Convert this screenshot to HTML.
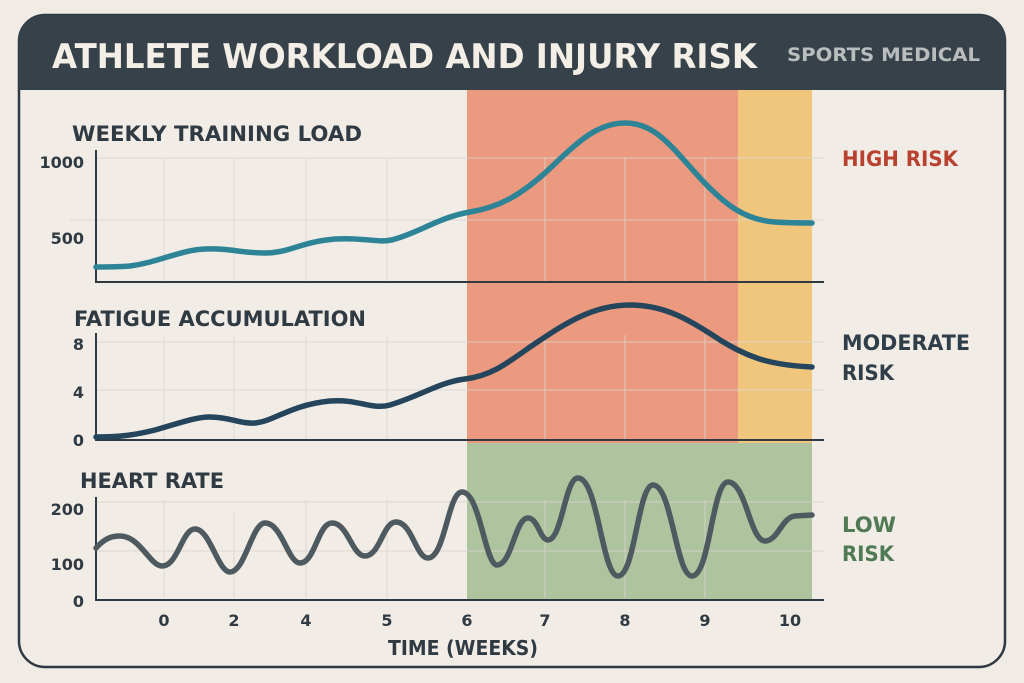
<!DOCTYPE html>
<html><head><meta charset="utf-8"><style>
html,body{margin:0;padding:0;background:#f0ebe4;}
svg{display:block;font-family:"DejaVu Sans","Liberation Sans",sans-serif;font-weight:bold;}
</style></head><body>
<svg width="1024" height="683" viewBox="0 0 1024 683" xmlns="http://www.w3.org/2000/svg">
<rect x="0" y="0" width="1024" height="683" fill="#f0ebe4"/>
<rect x="19" y="15" width="986" height="652" rx="26" fill="#f1ece6" stroke="#2f3a42" stroke-width="2.5"/>
<path d="M19,90 V41 A26,26 0 0 1 45,15 H979 A26,26 0 0 1 1005,41 V90 Z" fill="#36414a"/>
<text x="52" y="68" font-size="34" fill="#f3eee6" textLength="705" lengthAdjust="spacingAndGlyphs">ATHLETE WORKLOAD AND INJURY RISK</text>
<text x="787" y="61" font-size="19" fill="#b9bdbe" textLength="193" lengthAdjust="spacingAndGlyphs">SPORTS MEDICAL</text>
<rect x="467" y="90" width="271" height="353" fill="#eb9a80"/>
<rect x="738" y="90" width="74" height="353" fill="#f0c67c"/>
<rect x="467" y="443" width="345" height="157" fill="#adc49f"/>
<g stroke="#d9d4cd" stroke-width="1.2" opacity="0.7">
<path d="M164,158V282 M234,158V282 M306,158V282 M387,158V282 M545,158V282 M625,158V282 M705,158V282"/>
<path d="M96,158H824 M70,220H824"/>
<path d="M164,335V440 M234,335V440 M306,335V440 M387,335V440 M545,335V440 M625,335V440 M705,335V440"/>
<path d="M96,342H824 M96,390H824"/>
<path d="M164,500V598 M234,512V598 M306,500V598 M387,500V598 M545,500V598 M625,500V598 M705,500V598"/>
<path d="M96,502H824 M96,551H824"/>
</g>
<g stroke="#2f3a42" stroke-width="2" fill="none">
<path d="M96,150V282H824"/>
<path d="M96,333V440H824"/>
<path d="M96,497V600H824"/>
</g>
<g fill="#2f3a42">
<text x="72" y="141" font-size="21" textLength="290" lengthAdjust="spacingAndGlyphs">WEEKLY TRAINING LOAD</text>
<text x="74" y="326" font-size="21" textLength="292" lengthAdjust="spacingAndGlyphs">FATIGUE ACCUMULATION</text>
<text x="80" y="488" font-size="21" textLength="144" lengthAdjust="spacingAndGlyphs">HEART RATE</text>
<g font-size="16" text-anchor="end">
<text x="84" y="168">1000</text>
<text x="84" y="244">500</text>
<text x="84" y="350">8</text>
<text x="84" y="398">4</text>
<text x="84" y="446">0</text>
<text x="84" y="515">200</text>
<text x="84" y="570">100</text>
<text x="84" y="607">0</text>
</g>
<g font-size="16" text-anchor="middle">
<text x="164" y="626">0</text><text x="234" y="626">2</text><text x="306" y="626">4</text>
<text x="387" y="626">5</text><text x="467" y="626">6</text><text x="545" y="626">7</text>
<text x="625" y="626">8</text><text x="705" y="626">9</text><text x="790" y="626">10</text>
</g>
<text x="388" y="655" font-size="20" textLength="150" lengthAdjust="spacingAndGlyphs">TIME (WEEKS)</text>
</g>
<g font-size="21">
<text x="842" y="166" fill="#b8412f" textLength="116" lengthAdjust="spacingAndGlyphs">HIGH RISK</text>
<text x="842" y="350" fill="#2f3e48" textLength="128" lengthAdjust="spacingAndGlyphs">MODERATE</text>
<text x="842" y="380" fill="#2f3e48" textLength="52" lengthAdjust="spacingAndGlyphs">RISK</text>
<text x="842" y="532" fill="#4f7a53" textLength="54" lengthAdjust="spacingAndGlyphs">LOW</text>
<text x="842" y="561" fill="#4f7a53" textLength="52" lengthAdjust="spacingAndGlyphs">RISK</text>
</g>
<g fill="none" stroke-linecap="round" stroke-width="5.5">
<path stroke="#2e8497" d="M96,267 C115,267 120,267 130,266 C160,262 180,250 205,249 C230,248 240,253 265,253 C290,253 300,242 335,239 C365,237 380,244 395,239 C420,232 440,217 470,212 C500,207 520,195 545,173 C575,145 595,123 625,123 C655,123 670,145 700,178 C725,205 745,220 775,222 C790,223 800,223 812,223"/>
<path stroke="#24455c" d="M96,437 C120,437 135,435 155,430 C180,423 195,417 210,417 C230,417 240,424 255,423 C275,421 290,405 330,401 C360,399 370,410 390,405 C420,396 440,382 465,379 C490,376 505,365 530,347 C560,327 590,305 630,305 C665,305 690,320 720,340 C745,355 765,365 812,367"/>
<path stroke="#4e5a60" d="M96,548 C105,538 112,536 120,536 C140,536 150,566 162,566 C178,566 182,529 195,529 C210,529 218,572 230,572 C245,572 252,523 265,523 C282,523 288,563 300,563 C315,563 318,523 332,523 C348,523 352,556 365,556 C380,556 383,522 396,522 C412,522 416,558 428,558 C445,558 448,492 462,492 C480,492 485,565 497,565 C512,565 515,518 528,518 C538,518 540,540 548,540 C562,540 565,478 578,478 C598,478 602,576 618,576 C635,576 638,485 653,485 C672,485 676,576 692,576 C710,576 712,482 728,482 C746,482 750,541 765,541 C778,541 782,517 795,516 L812,515"/>
</g>
</svg>
</body></html>
